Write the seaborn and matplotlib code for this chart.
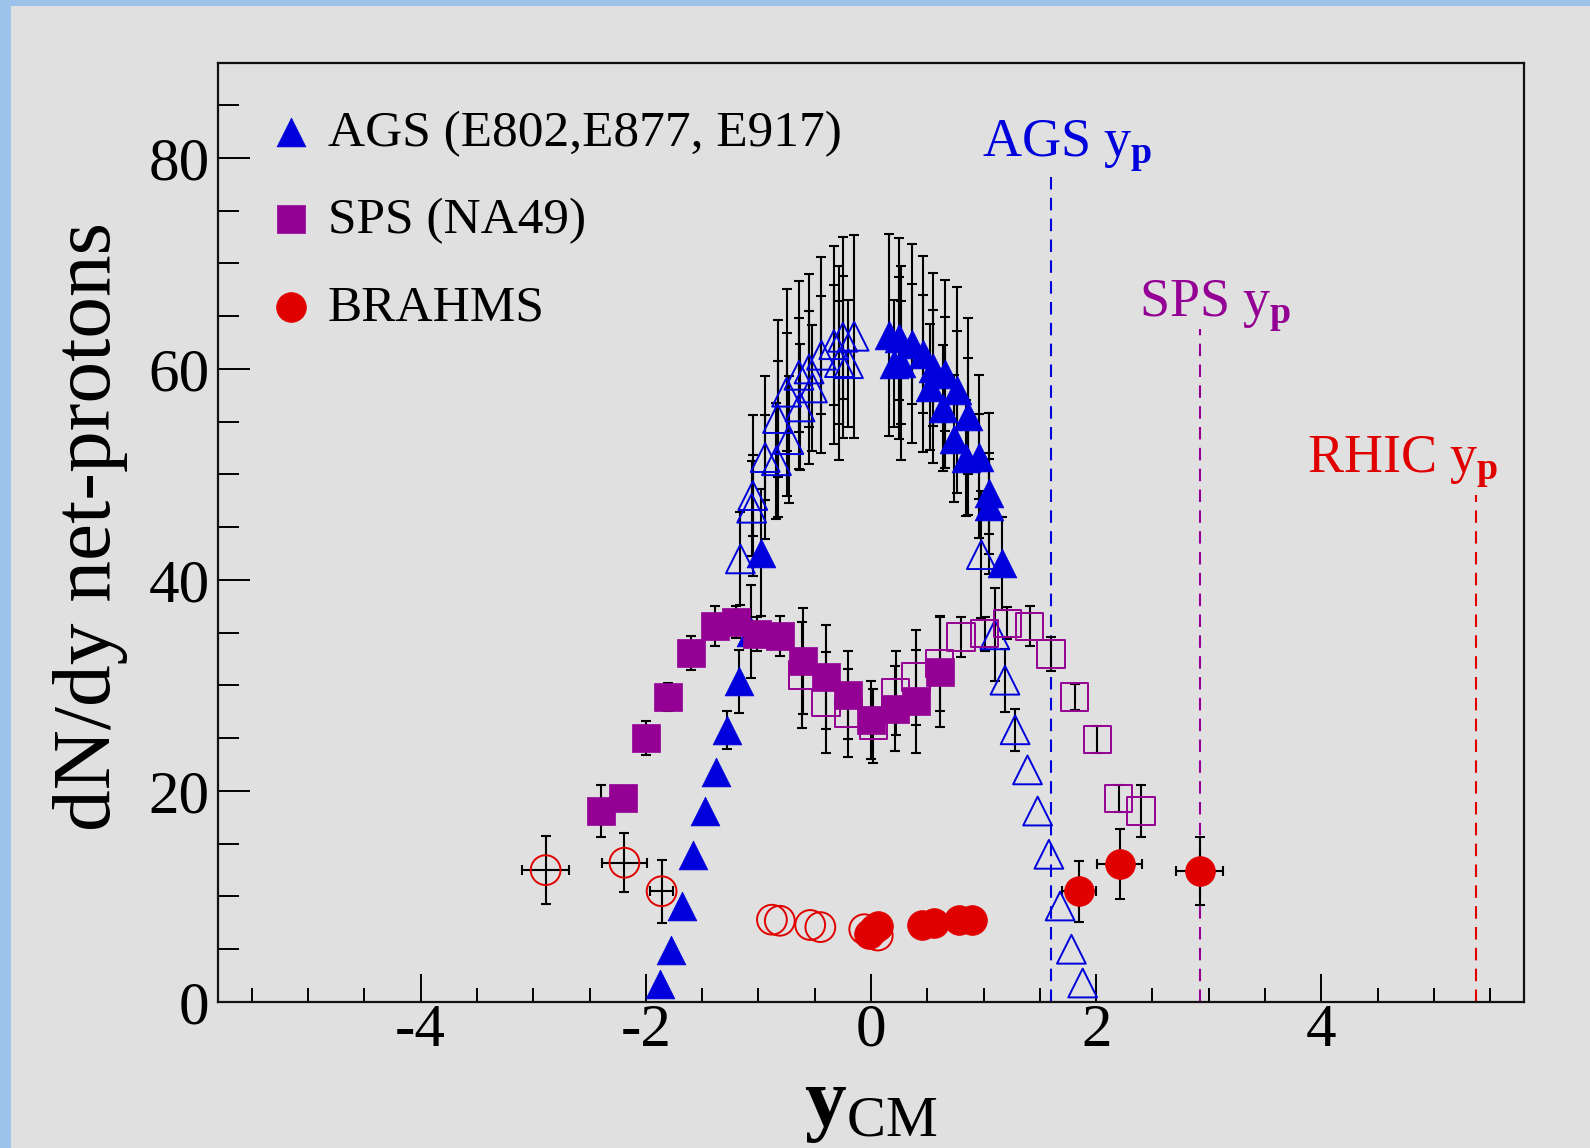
import numpy as np
import matplotlib
matplotlib.use("Agg")
import matplotlib.pyplot as plt
import seaborn as sns
from matplotlib.patches import Rectangle
from matplotlib.ticker import MultipleLocator

# ---------------- data ----------------
# errors of 0 mean "no visible error bar" (hidden inside the marker)
# AGS (E802, E877, E917) measured points (filled triangles)
ags_x = [-1.87, -1.78, -1.68, -1.58, -1.47, -1.38, -1.28, -1.17, -1.07, -0.98,
         0.16, 0.25, 0.20, 0.27, 0.36, 0.46, 0.55, 0.52, 0.66, 0.76, 0.64,
         0.86, 0.74, 0.96, 0.84, 1.05, 1.05, 1.16]
ags_y = [1.7, 4.9, 9.1, 13.9, 18.1, 21.8, 25.8, 30.4, 35.1, 42.6,
         63.2, 62.9, 60.5, 60.6, 62.4, 61.4, 60.1, 58.3, 59.5, 58.0, 56.3,
         55.5, 53.4, 51.7, 51.6, 48.2, 47.0, 41.6]
ags_err = [0.0, 0.0, 0.0, 0.0, 0.0, 0.0, 1.8, 3.0, 4.4, 6.0,
           9.6, 9.5, 6.0, 9.2, 9.4, 9.3, 9.0, 6.0, 8.9, 9.8, 6.0,
           9.3, 6.0, 7.7, 5.5, 7.6, 4.5, 4.4]
ags_err_in = [0.0, 0.0, 0.0, 0.0, 0.0, 0.0, 0.0, 0.0, 0.0, 0.0,
              0.0, 5.8, 0.0, 5.8, 5.7, 5.6, 5.5, 0.0, 5.4, 5.6, 0.0,
              5.5, 0.0, 4.0, 0.0, 3.8, 0.0, 0.0]

# AGS reflected points (open triangles)
ags_o_x = [-0.15, -0.25, -0.20, -0.28, -0.33, -0.44, -0.55, -0.52, -0.64, -0.75, -0.63,
           -0.83, -0.73, -0.94, -0.84, -1.05, -1.06, -1.16,
           0.98, 1.10, 1.19, 1.28, 1.39, 1.48, 1.58, 1.68, 1.78, 1.88]
ags_o_y = [63.1, 63.0, 60.5, 60.6, 62.3, 61.3, 60.0, 58.2, 59.4, 57.8, 56.4,
           55.3, 53.3, 51.6, 51.3, 48.0, 46.8, 42.0,
           42.4, 34.8, 30.5, 25.8, 22.0, 18.1, 14.0, 9.1, 5.0, 1.8]
ags_o_err = [9.6, 9.5, 6.0, 9.2, 9.4, 9.3, 9.0, 6.0, 8.9, 9.8, 6.0,
             9.3, 6.0, 7.7, 5.5, 7.6, 4.5, 4.4,
             6.0, 4.4, 3.0, 2.0, 0.0, 0.0, 0.0, 0.0, 0.0, 0.0]
ags_o_err_in = [0.0, 5.8, 0.0, 5.8, 5.7, 5.6, 5.5, 0.0, 5.4, 5.6, 0.0,
                5.5, 0.0, 4.0, 0.0, 3.8, 0.0, 0.0,
                0.0, 0.0, 0.0, 0.0, 0.0, 0.0, 0.0, 0.0, 0.0, 0.0]

# SPS (NA49) measured (filled squares) and reflected (open squares)
sps_x = [-2.40, -2.20, -2.00, -1.80, -1.60, -1.39, -1.20, -1.01,
         -0.81, -0.60, -0.40, -0.20, 0.00, 0.21, 0.40, 0.61]
sps_y = [18.1, 19.3, 25.0, 28.9, 33.1, 35.6, 36.0, 34.9,
         34.7, 32.3, 30.8, 29.1, 26.7, 27.8, 28.5, 31.3]
sps_err = [2.5, 1.2, 1.6, 1.3, 1.6, 1.9, 1.5, 1.6,
           1.9, 5.0, 4.9, 4.2, 3.7, 4.0, 4.9, 5.2]
sps_o_x = [-0.61, -0.40, -0.20, 0.02, 0.22, 0.40, 0.61, 0.80,
           1.01, 1.21, 1.41, 1.60, 1.81, 2.01, 2.20, 2.40]
sps_o_y = [31.0, 28.4, 27.4, 26.2, 29.3, 30.8, 32.1, 34.6,
           34.9, 35.9, 35.6, 33.0, 28.9, 24.9, 19.3, 18.1]
sps_o_err = [5.0, 4.8, 4.2, 3.5, 4.0, 4.5, 4.5, 1.9,
             1.6, 1.5, 1.9, 1.6, 1.2, 1.3, 1.3, 2.5]

# BRAHMS measured (filled circles) and reflected (open circles)
br_x = [-0.02, 0.03, 0.06, 0.45, 0.56, 0.78, 0.90, 1.85, 2.21, 2.92]
br_y = [6.4, 6.9, 7.2, 7.3, 7.5, 7.8, 7.8, 10.5, 13.1, 12.4]
br_yerr = [0.0, 0.0, 0.0, 0.0, 0.0, 0.0, 0.0, 2.9, 3.3, 3.2]
br_xerr = [0.0, 0.0, 0.0, 0.0, 0.0, 0.0, 0.0, 0.15, 0.20, 0.21]
br_o_x = [-2.89, -2.19, -1.86, -0.88, -0.81, -0.54, -0.45, -0.06, 0.06]
br_o_y = [12.5, 13.2, 10.5, 7.8, 7.7, 7.3, 7.1, 6.9, 6.3]
br_o_yerr = [3.2, 2.8, 3.0, 0.0, 0.0, 0.0, 0.0, 0.0, 0.0]
br_o_xerr = [0.21, 0.20, 0.10, 0.0, 0.0, 0.0, 0.0, 0.0, 0.0]

# beam rapidities
beam_names = ["AGS", "SPS", "RHIC"]
beam_y = [1.60, 2.92, 5.37]
beam_line_top = [78.7, 63.8, 48.1]
beam_label_x = [0.99, 2.38, 3.87]
beam_label_y = [80.1, 65.0, 50.2]

legend_labels = ["AGS (E802,E877, E917)", "SPS (NA49)", "BRAHMS"]

# ---------------- style ----------------
sns.set_style("ticks")
plt.rcParams["font.family"] = ["Liberation Serif", "DejaVu Serif"]
plt.rcParams["mathtext.fontset"] = "custom"
plt.rcParams["mathtext.rm"] = "Liberation Serif"
plt.rcParams["mathtext.it"] = "Liberation Serif:italic"
plt.rcParams["mathtext.bf"] = "Liberation Serif:bold"
plt.rcParams["axes.unicode_minus"] = False
for k in ["text.color", "axes.labelcolor", "xtick.color", "ytick.color",
          "xtick.labelcolor", "ytick.labelcolor"]:
    plt.rcParams[k] = "black"

BLUE = "#0000dd"
PURPLE = "#940094"
RED = "#e00000"
GREY = "#e0e0e0"
SLIDE = "#9dc3ea"


def vis(err):
    """Hide error bars that are zero (no bar drawn, no caps)."""
    e = np.asarray(err, dtype=float)
    return np.where(e > 0, e, np.nan)


fig = plt.figure(figsize=(15.9, 11.48), dpi=100, facecolor=SLIDE)
panel = Rectangle((11 / 1590, 0), 1, 1 - 6 / 1148, transform=fig.transFigure,
                  facecolor=GREY, edgecolor="none", zorder=-10)
fig.patches.append(panel)
ax = fig.add_axes([218 / 1590, 1 - 1002 / 1148, 1306 / 1590, 939 / 1148])
ax.set_zorder(5)
ax.set_facecolor(GREY)

# error bars
eb = dict(fmt="none", ecolor="black", elinewidth=1.5, capsize=3.8, capthick=1.5, zorder=2)
ax.errorbar(ags_x, ags_y, yerr=vis(ags_err), **eb)
ax.errorbar(ags_x, ags_y, yerr=vis(ags_err_in), **eb)
ax.errorbar(ags_o_x, ags_o_y, yerr=vis(ags_o_err), **eb)
ax.errorbar(ags_o_x, ags_o_y, yerr=vis(ags_o_err_in), **eb)
ax.errorbar(sps_x, sps_y, yerr=vis(sps_err), **eb)
ax.errorbar(sps_o_x, sps_o_y, yerr=vis(sps_o_err), **eb)
ax.errorbar(br_x, br_y, yerr=vis(br_yerr), xerr=vis(br_xerr), **eb)
ax.errorbar(br_o_x, br_o_y, yerr=vis(br_o_yerr), xerr=vis(br_o_xerr), **eb)

# markers
S_TRI, S_SQ, S_CIR = 430, 390, 460
sns.scatterplot(x=ags_o_x, y=ags_o_y, marker="^", s=S_TRI, facecolors="none",
                edgecolor=BLUE, linewidth=1.4, ax=ax, zorder=3, legend=False)
sns.scatterplot(x=sps_o_x, y=sps_o_y, marker="s", s=S_SQ, facecolors="none",
                edgecolor=PURPLE, linewidth=1.4, ax=ax, zorder=3, legend=False)
sns.scatterplot(x=br_o_x, y=br_o_y, marker="o", s=S_CIR, facecolors="none",
                edgecolor=RED, linewidth=1.4, ax=ax, zorder=3, legend=False)
sns.scatterplot(x=ags_x, y=ags_y, marker="^", s=S_TRI, color=BLUE,
                edgecolor=BLUE, linewidth=0.5, ax=ax, zorder=4, legend=False)
h_ags = ax.collections[-1]
sns.scatterplot(x=sps_x, y=sps_y, marker="s", s=S_SQ, color=PURPLE,
                edgecolor=PURPLE, linewidth=0.5, ax=ax, zorder=4, legend=False)
h_sps = ax.collections[-1]
sns.scatterplot(x=br_x, y=br_y, marker="o", s=S_CIR, color=RED,
                edgecolor=RED, linewidth=0.5, ax=ax, zorder=4, legend=False)
h_br = ax.collections[-1]

# beam rapidity lines and labels
for name, yb, top, lx, ly, c in zip(beam_names, beam_y, beam_line_top,
                                    beam_label_x, beam_label_y, [BLUE, PURPLE, RED]):
    ax.vlines(yb, 0, top, colors=c, linestyles=(0, (6, 4)), linewidth=1.5, zorder=1)
    ax.text(lx, ly, r"$\mathrm{%s\ y}_{\mathbf{p}}$" % name, color=c,
            fontsize=39, ha="left", va="baseline")

# axes
ax.set_xlim(-5.8, 5.8)
ax.set_ylim(0, 89)
ax.xaxis.set_major_locator(MultipleLocator(2))
ax.xaxis.set_minor_locator(MultipleLocator(0.5))
ax.yaxis.set_major_locator(MultipleLocator(20))
ax.yaxis.set_minor_locator(MultipleLocator(5))
ax.tick_params(axis="x", which="major", direction="in", length=20, width=1.4,
               labelsize=44, pad=1, top=False, color="black")
ax.tick_params(axis="x", which="minor", direction="in", length=10, width=1.4,
               top=False, color="black")
ax.tick_params(axis="y", which="major", direction="in", length=23, width=1.4,
               labelsize=44, pad=6, right=False, color="black")
ax.tick_params(axis="y", which="minor", direction="in", length=15, width=1.4,
               right=False, color="black")
for sp in ax.spines.values():
    sp.set_linewidth(1.6)
    sp.set_color("#111111")
    sp.set_visible(True)

ax.set_xlabel(r"$\mathbf{y}_{\mathrm{CM}}$", fontsize=60)
ax.xaxis.set_label_coords(0.5, -0.072)
ax.set_ylabel("dN/dy net-protons", fontsize=60)
ax.yaxis.set_label_coords(-0.069, 0.506)

ax.legend(handles=[h_ags, h_sps, h_br], labels=legend_labels, loc="upper left",
          bbox_to_anchor=(0.036, 0.950), frameon=False, fontsize=37,
          handlelength=1.0, handletextpad=0.22, labelspacing=0.78,
          borderpad=0, borderaxespad=0, scatterpoints=1)

fig.savefig("out.png", dpi=100, facecolor=fig.get_facecolor())
